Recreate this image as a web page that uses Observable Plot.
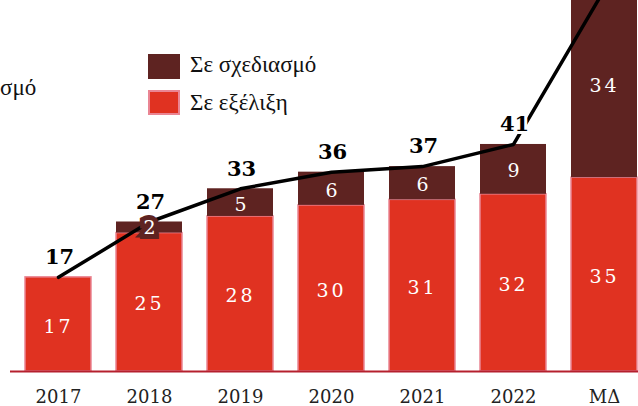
<!DOCTYPE html>
<html>
<head>
<meta charset="utf-8">
<script src="https://cdn.jsdelivr.net/npm/d3@7"></script>
<script src="https://cdn.jsdelivr.net/npm/@observablehq/plot@0.6"></script>
<style>
  html, body { margin: 0; padding: 0; background: #fff; overflow: hidden; }
  #wrap { position: relative; width: 638px; height: 406px; overflow: hidden; }
  #chart svg { display: block; }
  .legend { position: absolute; left: 148px; font-family: "Liberation Serif", serif; font-size: 23px; color: #111; }
  .sw { position: absolute; width: 32px; height: 25px; box-sizing: border-box; }
  .lt { position: absolute; left: 42px; white-space: nowrap; line-height: 25px; }
  .side { position: absolute; left: 0px; top: 75px; font-family: "Liberation Serif", serif; font-size: 23px; color: #111; }
</style>
</head>
<body>
<div id="wrap">
  <div id="chart"></div>
  <div class="side">σμό</div>
  <div class="legend" style="top:54px">
    <div class="sw" style="background:#5e2321"></div>
    <div class="lt" style="top:-2px">Σε σχεδιασμό</div>
  </div>
  <div class="legend" style="top:90px">
    <div class="sw" style="background:#e03221;border:2px solid #ea8593"></div>
    <div class="lt" style="top:0px">Σε εξέλιξη</div>
  </div>
</div>
<script>
const years = ["2017", "2018", "2019", "2020", "2021", "2022", "ΜΔ"];
const inProgress = [17, 25, 28, 30, 31, 32, 35];
const inDesign = [0, 2, 5, 6, 6, 9, 34];
const totals = [17, 27, 33, 36, 37, 41, 69];

const RED = "#e03221", DARK = "#5e2321", PINK = "#ea8593";

const redRows = years.map((y, i) => ({year: y, y1: 0, y2: inProgress[i], v: inProgress[i]}));
const darkRows = years.map((y, i) => ({year: y, y1: inProgress[i], y2: inProgress[i] + inDesign[i], v: inDesign[i]})).filter(d => d.v > 0);
const totalRows = years.map((y, i) => ({year: y, total: totals[i]}));

const chart = Plot.plot({
  width: 638,
  height: 406,
  marginTop: 0,
  marginBottom: 35,
  marginLeft: 0,
  marginRight: 0,
  style: {fontFamily: "DejaVu Serif", color: "#222", overflow: "hidden"},
  x: {domain: years, range: [10.6, 651.8], paddingInner: 0.27, paddingOuter: 0.135, label: null},
  y: {domain: [0, 67], axis: null},
  marks: [
    Plot.barY(redRows, {x: "year", y1: "y1", y2: "y2", fill: RED, stroke: PINK, strokeWidth: 1.5}),
    Plot.barY(darkRows, {x: "year", y1: "y1", y2: "y2", fill: DARK}),
    Plot.ruleY([0], {stroke: "#b5202e", strokeWidth: 2, insetLeft: 10}),
    Plot.lineY(totalRows, {x: "year", y: "total", stroke: "black", strokeWidth: 3.5}),
    Plot.text(redRows, {x: "year", y: d => (d.y1 + d.y2) / 2, text: d => String(d.v), fill: "white", fontSize: 19, dy: 2}),
    Plot.text(darkRows.filter(d => d.v < 3), {x: "year", y: d => (d.y1 + d.y2) / 2, text: d => String(d.v), fill: "white", stroke: DARK, strokeWidth: 10, strokeLinejoin: "miter", fontSize: 19}),
    Plot.text(darkRows.filter(d => d.v >= 3), {x: "year", y: d => (d.y1 + d.y2) / 2, text: d => String(d.v), fill: "white", fontSize: 19, dy: 2}),
    Plot.text(totalRows.filter(d => d.total < 60), {x: "year", y: "total", text: d => String(d.total), fill: "black", stroke: "white", strokeWidth: 6, fontSize: 21, fontWeight: "bold", dy: -20, dx: 1}),
    Plot.axisX({tickSize: 0, tickPadding: 19, fontSize: 18, label: null})
  ]
});
document.getElementById("chart").appendChild(chart);
d3.select(chart).selectAll('g[fill="white"] text').style("letter-spacing", function() {
  return this.textContent.length > 1 ? "3px" : "0px";
});
</script>
</body>
</html>
